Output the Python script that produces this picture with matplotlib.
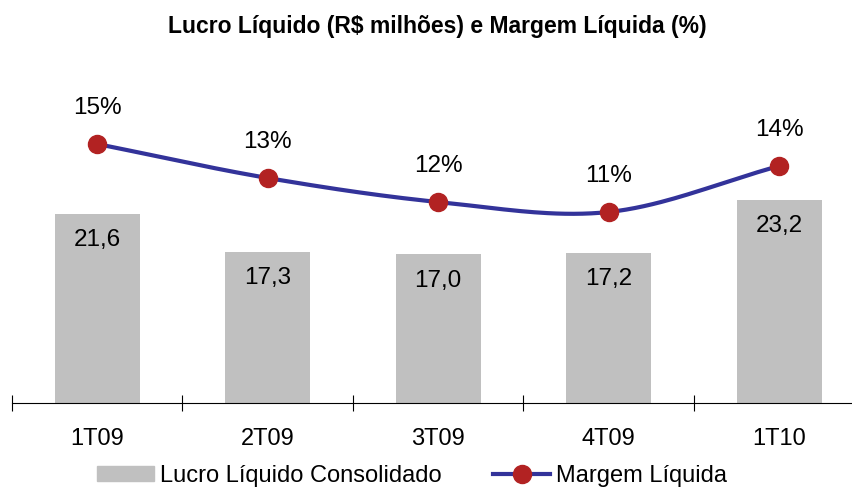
import matplotlib.pyplot as plt
import numpy as np

plt.rcParams['font.family'] = ['Liberation Sans', 'DejaVu Sans']

quarters = ['1T09', '2T09', '3T09', '4T09', '1T10']
lucro = [21.6, 17.3, 17.0, 17.2, 23.2]
margem = [14.8, 13.1, 11.9, 11.4, 13.7]
lucro_labels = ['21,6', '17,3', '17,0', '17,2', '23,2']
margem_labels = ['15%', '13%', '12%', '11%', '14%']

x = np.arange(len(quarters))

fig = plt.figure(figsize=(8.52, 4.90), dpi=100)
ax = fig.add_axes([12 / 852, 87 / 490, 840 / 852, 343 / 490])

ax.bar(x, lucro, width=0.5, color='#c0c0c0', zorder=1)
ax.set_xlim(-0.5, 4.427)
ax.set_ylim(0, 39.2)
for xi, v, lab in zip(x, lucro, lucro_labels):
    ax.annotate(lab, (xi, v), xytext=(0, -19), textcoords='offset points',
                ha='center', va='center', fontsize=17.5)

for s in ['top', 'right', 'left']:
    ax.spines[s].set_visible(False)
ax.spines['bottom'].set_linewidth(0.8)
ax.set_yticks([])
ax.set_xticks(np.arange(-0.5, 4.5, 1.0))
ax.set_xticklabels([])
ax.tick_params(axis='x', length=12, direction='inout', width=0.8)
for xi, q in zip(x, quarters):
    ax.text(xi, -0.105, q, transform=ax.get_xaxis_transform(),
            ha='center', va='center', fontsize=17)

# smoothed margin line (Catmull-Rom through the points)
ax2 = ax.twinx()
ax2.set_ylim(1.85, 19.0)
ax2.axis('off')
pts = np.array(margem)
ext = np.concatenate([[2 * pts[0] - pts[1]], pts, [2 * pts[-1] - pts[-2]]])
xs, ys = [], []
for i in range(len(pts) - 1):
    p0, p1, p2, p3 = ext[i], ext[i + 1], ext[i + 2], ext[i + 3]
    t = np.linspace(0, 1, 40)
    yy = 0.5 * (2 * p1 + (-p0 + p2) * t + (2 * p0 - 5 * p1 + 4 * p2 - p3) * t ** 2
                + (-p0 + 3 * p1 - 3 * p2 + p3) * t ** 3)
    xs.append(i + t)
    ys.append(yy)
ax2.plot(np.concatenate(xs), np.concatenate(ys), color='#33339a', lw=3, zorder=3)
ax2.plot(x, margem, 'o', color='#b22222', ms=13, zorder=4)
for xi, v, lab in zip(x, margem, margem_labels):
    ax2.annotate(lab, (xi, v), xytext=(0, 26), textcoords='offset points',
                 ha='center', va='center', fontsize=17.5)

fig.text(437 / 852, 1 - 27 / 490, 'Lucro Líquido (R$ milhões) e Margem Líquida (%)',
         ha='center', va='center', fontsize=16.5, fontweight='bold')

h1 = plt.Rectangle((0, 0), 1, 1, color='#c0c0c0')
h2 = plt.Line2D([], [], color='#33339a', lw=3, marker='o', ms=13, markerfacecolor='#b22222',
                markeredgecolor='#b22222')
fig.legend([h1, h2], ['Lucro Líquido Consolidado', 'Margem Líquida'], ncol=2,
           loc='center', bbox_to_anchor=(412 / 852, 1 - 476 / 490), frameon=False,
           fontsize=17, handlelength=2.4, handletextpad=0.25, columnspacing=2.2,
           borderpad=0, handleheight=0.6)

fig.savefig('out.png', dpi=100)
